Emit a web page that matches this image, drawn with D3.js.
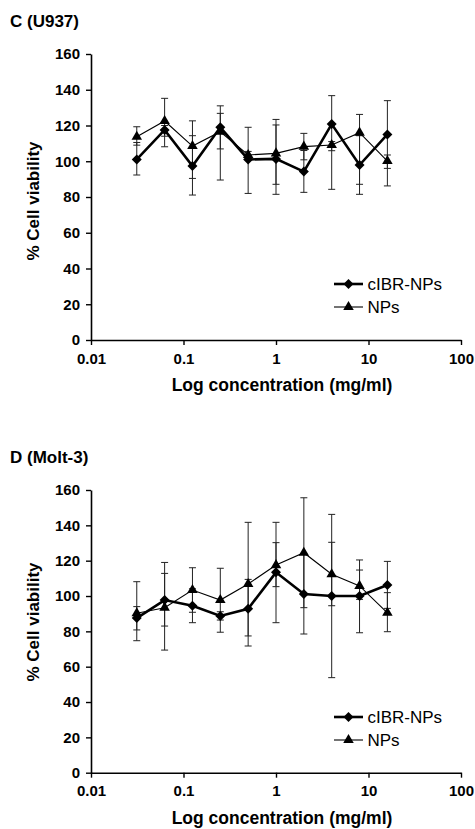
<!DOCTYPE html>
<html>
<head>
<meta charset="utf-8">
<script src="https://cdn.jsdelivr.net/npm/d3@7"></script>
<style>
  body { margin: 0; background: #fff; }
  svg { display: block; font-family: "Liberation Sans", Arial, sans-serif; }
</style>
</head>
<body>
<svg id="chart" width="475" height="829"></svg>
<script>
// concentrations (mg/ml), two-fold dilutions
var conc = [0.03125, 0.0625, 0.125, 0.25, 0.5, 1, 2, 4, 8, 16]
var xTicks = [0.01, 0.1, 1, 10, 100]
var yTicks = [0, 20, 40, 60, 80, 100, 120, 140, 160]

// C (U937)
var u937Cibr   = [101, 117.5, 97.3, 119, 101, 101.3, 94.2, 120.8, 97.9, 115]
var u937CibrLo = [92.3, 114, 81.1, 106.9, 82, 81.5, 82.6, 105.9, 81.5, 96]
var u937CibrHi = [110.5, 120, 114.3, 131, 119, 120.3, 106, 136.7, 114.3, 133.9]
var u937Nps    = [113.7, 122.5, 108.5, 116.5, 103.5, 104.4, 108.2, 109.1, 116, 100.1]
var u937NpsLo  = [109, 108.1, 90.4, 89.5, 101.5, 87.1, 100.8, 84.3, 87.1, 86.2]
var u937NpsHi  = [119.3, 135.2, 122.6, 126.8, 105.5, 123.4, 115.6, 111, 126.2, 103.5]

// D (Molt-3)
var moltCibr   = [87.5, 97.7, 94.5, 88.7, 92.8, 113.4, 101.1, 100, 100, 106.2]
var moltCibrLo = [80.8, 83, 84.9, 86.4, 77.4, 84.9, 78.5, 53.8, 79.2, 93]
var moltCibrHi = [94, 112.8, 104.1, 91.1, 109.4, 141.7, 123.7, 146.2, 120.4, 119.6]
var moltNps    = [90.2, 93.4, 103.4, 97.7, 106.8, 117.5, 124.5, 112.3, 105.7, 90.5]
var moltNpsLo  = [74.7, 69.4, 90.8, 79.5, 71.7, 105.3, 93.4, 94.5, 98.1, 79.8]
var moltNpsHi  = [108.1, 119, 116, 115.7, 141.7, 130.2, 155.6, 130.4, 114.7, 101.9]

var seriesNames = ['cIBR-NPs', 'NPs']

var svg = d3.select('#chart')
var font = '"Liberation Sans", Arial, sans-serif'

var x = d3.scaleLog().domain([0.01, 100]).range([91, 461])

function drawPanel(opt){
  var g = svg.append('g')
  var y = d3.scaleLinear().domain([0, 160]).range([opt.y0, opt.y160])

  g.append('text').text(opt.title)
    .attr('x', 10).attr('y', opt.titleY)
    .attr('font-size', 17).attr('font-weight', 'bold')

  var yAxis = g.append('g')
    .attr('transform', 'translate(91,0)')
    .call(d3.axisLeft(y).tickValues(yTicks).tickSize(5).tickSizeOuter(0).tickPadding(6))
  var xAxis = g.append('g')
    .attr('transform', 'translate(0,' + opt.y0 + ')')
    .call(d3.axisBottom(x).tickValues(xTicks).tickSize(5).tickSizeOuter(0).tickPadding(8)
      .tickFormat(d => String(d)))

  ;[yAxis, xAxis].forEach(function(a){
    a.selectAll('path.domain').attr('stroke', '#000').attr('stroke-width', 1.6)
    a.selectAll('.tick line').attr('stroke', '#000').attr('stroke-width', 1.4)
    a.selectAll('.tick text').attr('font-size', 15).attr('font-weight', 'bold')
      .attr('font-family', font).attr('fill', '#000')
  })

  g.append('text').text('% Cell viability')
    .attr('transform', 'translate(39,' + opt.ylabY + ') rotate(-90)')
    .attr('text-anchor', 'middle').attr('font-size', 17).attr('font-weight', 'bold')

  g.append('text').text('Log concentration (mg/ml)')
    .attr('x', 282).attr('y', opt.y0 + 51)
    .attr('text-anchor', 'middle').attr('font-size', 17.5).attr('font-weight', 'bold')

  var series = [
    {name: seriesNames[0], v: opt.cibr, lo: opt.cibrLo, hi: opt.cibrHi, width: 2.6, shape: 'diamond'},
    {name: seriesNames[1], v: opt.nps, lo: opt.npsLo, hi: opt.npsHi, width: 1.1, shape: 'triangle'}
  ]

  // error bars
  series.forEach(function(s){
    var eb = g.append('g').selectAll('g').data(conc).join('g')
      .attr('stroke', '#222').attr('stroke-width', 1)
    eb.append('line')
      .attr('x1', d => x(d)).attr('x2', d => x(d))
      .attr('y1', (d, i) => y(s.lo[i])).attr('y2', (d, i) => y(s.hi[i]))
    eb.append('line')
      .attr('x1', d => x(d) - 3.5).attr('x2', d => x(d) + 3.5)
      .attr('y1', (d, i) => y(s.lo[i])).attr('y2', (d, i) => y(s.lo[i]))
    eb.append('line')
      .attr('x1', d => x(d) - 3.5).attr('x2', d => x(d) + 3.5)
      .attr('y1', (d, i) => y(s.hi[i])).attr('y2', (d, i) => y(s.hi[i]))
  })

  var line = d3.line().x(d => x(d[0])).y(d => y(d[1]))
  series.slice().reverse().forEach(function(s){
    g.append('path')
      .datum(conc.map((c, i) => [c, s.v[i]]))
      .attr('d', line).attr('fill', 'none')
      .attr('stroke', '#000').attr('stroke-width', s.width)
  })

  series.forEach(function(s){
    g.append('g').selectAll('path').data(conc).join('path')
      .attr('d', marker(s.shape))
      .attr('transform', (d, i) => 'translate(' + x(d) + ',' + y(s.v[i]) + ')' + (s.shape == 'diamond' ? ' rotate(45)' : ''))
      .attr('fill', '#000')
  })

  // legend
  var leg = g.append('g').selectAll('g').data(series).join('g')
    .attr('transform', (d, i) => 'translate(0,' + (opt.legY + i * 23) + ')')
  leg.append('line').attr('x1', 334).attr('x2', 363)
    .attr('stroke', '#000').attr('stroke-width', d => d.width)
  leg.append('path').attr('d', d => marker(d.shape))
    .attr('transform', d => 'translate(348.5,0)' + (d.shape == 'diamond' ? ' rotate(45)' : ''))
    .attr('fill', '#000')
  leg.append('text').text(d => d.name)
    .attr('x', 367.5).attr('dy', '0.36em')
    .attr('font-size', 17)
}

function marker(shape){
  return shape == 'diamond'
    ? d3.symbol(d3.symbolSquare, 50)()
    : d3.symbol(d3.symbolTriangle, 48)()
}

drawPanel({title: 'C (U937)', titleY: 27, y0: 340, y160: 54, ylabY: 201, legY: 284,
  cibr: u937Cibr, cibrLo: u937CibrLo, cibrHi: u937CibrHi,
  nps: u937Nps, npsLo: u937NpsLo, npsHi: u937NpsHi})

drawPanel({title: 'D (Molt-3)', titleY: 463, y0: 772.7, y160: 490, ylabY: 622, legY: 717,
  cibr: moltCibr, cibrLo: moltCibrLo, cibrHi: moltCibrHi,
  nps: moltNps, npsLo: moltNpsLo, npsHi: moltNpsHi})
</script>
</body>
</html>
